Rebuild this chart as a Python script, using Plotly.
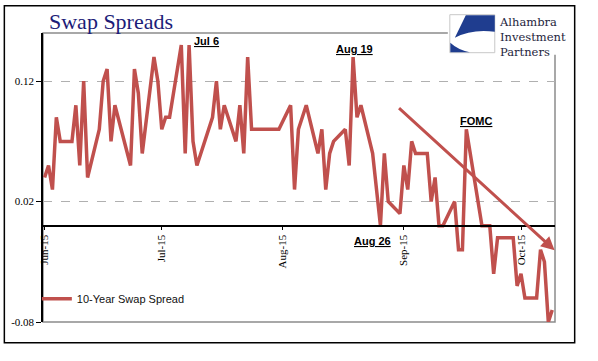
import pandas as pd
import plotly.graph_objects as go

# ---- data (business days, Jun 1 2015 - Oct 9 2015) ----
jun_vals = [0.04, 0.05, 0.03, 0.09, 0.07, 0.07, 0.10, 0.05, 0.12, 0.04,
            0.08, 0.12, 0.13, 0.07, 0.10, None, 0.05, 0.13, 0.11, 0.06,
            0.14, 0.12]
jul_vals = [0.08, 0.09, 0.09, 0.15, 0.06, 0.15, 0.07, 0.05, None, 0.09,
            0.12, 0.08, 0.10, 0.07, 0.10, 0.06, 0.14, 0.08, 0.08, 0.08,
            0.08, 0.08, 0.08]
aug_vals = [0.10, 0.03, 0.08, 0.09, 0.10, 0.06, 0.08, 0.03, 0.06, 0.07,
            0.08, 0.05, 0.14, 0.09, 0.10, 0.06, 0.03, 0.00, 0.06, 0.02,
            0.01]
sep_vals = [0.05, 0.03, 0.07, 0.06, 0.06, 0.02, 0.04, 0.00, 0.00, 0.02,
            -0.02, -0.02, 0.08, None, 0.00, 0.00, 0.00, -0.04, -0.01, -0.01,
            -0.01, -0.05]
oct_vals = [-0.04, -0.06, -0.06, -0.02, -0.03, -0.08, -0.07]

dates = pd.bdate_range("2015-06-01", "2015-10-09")
values = jun_vals + jul_vals + aug_vals + sep_vals + oct_vals
assert len(dates) == len(values)

series_name = "10-Year Swap Spread"
y_ticks = [-0.08, 0.02, 0.12]
y_tick_text = ["-0.08", "0.02", "0.12"]

event_labels = ["Jul 6", "Aug 19", "Aug 26", "FOMC"]

# ---- layout geometry helpers (pixel -> paper) ----
W, H = 598, 361
L, R, T, B = 42.7, 555.3, 33.3, 322.3
def px(x):
    return (x - L) / (R - L)
def py(y):
    return (B - y) / (B - T)

RED = "#c0504d"

fig = go.Figure()
fig.add_trace(go.Scatter(
    x=dates, y=values, mode="lines", name=series_name,
    line=dict(color=RED, width=3.5), connectgaps=True,
))

x0 = pd.Timestamp("2015-05-31 14:00")
x1 = pd.Timestamp("2015-10-09 17:00")

fig.update_layout(
    width=W, height=H,
    margin=dict(l=L, r=W - R, t=T, b=H - B),
    paper_bgcolor="white", plot_bgcolor="white",
    showlegend=True,
    legend=dict(x=-0.012, y=py(299), xanchor="left", yanchor="middle",
                font=dict(family="Liberation Sans", size=11, color="#111"),
                bgcolor="rgba(0,0,0,0)"),
    xaxis=dict(
        range=[x0, x1], type="date",
        anchor="free", position=(0 - (-0.08)) / 0.24,
        tick0="2015-06-01", dtick="M1", tickformat="%b-%y",
        tickangle=-90, ticks="outside", ticklen=4, tickcolor="black",
        showline=True, linecolor="black", linewidth=1.5,
        showgrid=False, zeroline=False,
        tickfont=dict(family="Liberation Serif", size=11, color="black"),
    ),
    yaxis=dict(
        range=[-0.08, 0.16], tickvals=y_ticks, ticktext=y_tick_text,
        ticks="outside", ticklen=5, tickcolor="black",
        showline=True, linecolor="black", linewidth=1.5,
        showgrid=True, gridcolor="#b0b0b0", griddash="dash", gridwidth=1,
        zeroline=False,
        tickfont=dict(family="Liberation Serif", size=11, color="black"),
    ),
)

shapes = []
# outer frame
shapes.append(dict(type="rect", xref="paper", yref="paper",
                   x0=px(4), x1=px(575), y0=py(343), y1=py(6),
                   line=dict(color="black", width=1.5), layer="below"))
# plot-area border (gray)
shapes.append(dict(type="rect", xref="paper", yref="paper",
                   x0=0, x1=1, y0=0, y1=1,
                   line=dict(color="#8c8c8c", width=1.5), layer="below"))
# logo white background
shapes.append(dict(type="rect", xref="paper", yref="paper",
                   x0=px(448), x1=px(572), y0=py(55), y1=py(13),
                   fillcolor="white", line=dict(width=0), layer="above"))
# logo square
shapes.append(dict(type="rect", xref="paper", yref="paper",
                   x0=px(450), x1=px(495), y0=py(53), y1=py(15),
                   fillcolor="white", line=dict(color="#c8c8c8", width=1), layer="above"))

BLUE = "#1f3d8f"
shapes.append(dict(type="path", xref="paper", yref="paper",
                   path="M %f,%f L %f,%f L %f,%f Q %f,%f %f,%f Z" % (
                       px(495), py(15.5), px(466), py(15.5), px(455), py(38),
                       px(472), py(29), px(495), py(32)),
                   fillcolor=BLUE, line=dict(width=0), layer="above"))
shapes.append(dict(type="path", xref="paper", yref="paper",
                   path="M %f,%f L %f,%f L %f,%f Q %f,%f %f,%f Z" % (
                       px(450.5), py(43), px(450.5), py(52.5), px(470), py(52.5),
                       px(458), py(50), px(450.5), py(43)),
                   fillcolor=BLUE, line=dict(width=0), layer="above"))
fig.update_layout(shapes=shapes)

day0 = pd.Timestamp("2015-06-01")
def dx(pxv):
    return day0 + pd.Timedelta(days=(pxv - 44.3) / 3.91)
def dy(pyv):
    return 0.12 - (pyv - 82.3) / 1194.0

anns = []
# title
anns.append(dict(text="Swap Spreads", xref="paper", yref="paper",
                 x=px(47), y=py(22), xanchor="left", yanchor="middle",
                 showarrow=False,
                 font=dict(family="Liberation Serif", size=22, color="#1c1c78")))
# logo text (one multi-line text block)
anns.append(dict(text="Alhambra<br>Investment<br>Partners", xref="paper", yref="paper",
                 x=px(497), y=py(13.5), xanchor="left", yanchor="top", align="left",
                 showarrow=False,
                 font=dict(family="DejaVu Serif", size=11.5, color="#1e1e3c")))
# event labels
for txt, (ex, ey) in zip(event_labels, [(206.5, 42), (355, 50), (372.5, 241), (476.5, 122)]):
    anns.append(dict(text="<b><u>%s</u></b>" % txt, x=dx(ex), y=dy(ey),
                     xref="x", yref="y", showarrow=False,
                     font=dict(family="Liberation Sans", size=11, color="black")))
# trend arrow
anns.append(dict(text="", x=dx(555), y=dy(250), ax=dx(397.7), ay=dy(107.7),
                 xref="x", yref="y", axref="x", ayref="y",
                 showarrow=True, arrowhead=2, arrowsize=0.9, arrowwidth=3,
                 arrowcolor=RED, standoff=0))
fig.update_layout(annotations=anns)

fig.write_html("out.html", config={"displayModeBar": False},
               post_script="document.body.style.margin='0px';")
